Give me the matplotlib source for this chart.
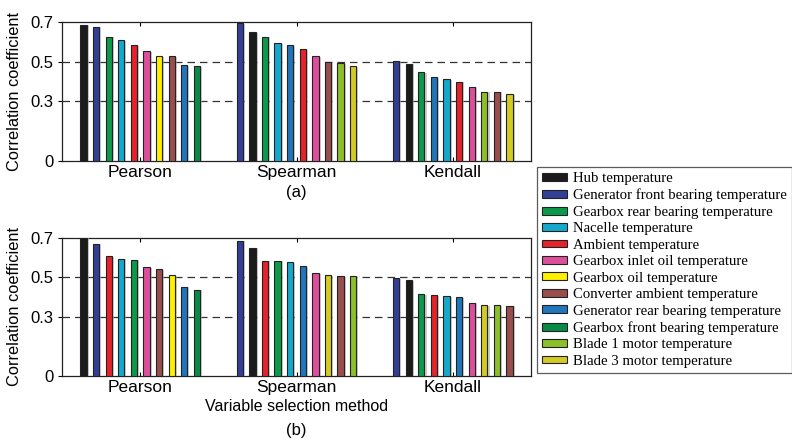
import matplotlib
matplotlib.use("Agg")
import matplotlib.pyplot as plt
import matplotlib.patheffects as pe
from matplotlib.patches import Patch
import numpy as np

variables = ["Hub temperature", "Generator front bearing temperature",
             "Gearbox rear bearing temperature", "Nacelle temperature",
             "Ambient temperature", "Gearbox inlet oil temperature",
             "Gearbox oil temperature", "Converter ambient temperature",
             "Generator rear bearing temperature", "Gearbox front bearing temperature",
             "Blade 1 motor temperature", "Blade 3 motor temperature"]
colors = ["#1b1b1b", "#323f96", "#0c9a4a", "#14a9cc", "#e5232a", "#de4f9b",
          "#fff000", "#984e4c", "#1f76bd", "#0a8b45", "#8cbf2a", "#d3cb25"]
methods = ["Pearson", "Spearman", "Kendall"]

# panel (a): variable order (indices) and values per method
a_order = [[0, 1, 2, 3, 4, 5, 6, 7, 8, 9],
           [1, 0, 2, 3, 8, 4, 5, 7, 10, 11],
           [1, 0, 2, 8, 3, 4, 5, 10, 7, 11]]
a_vals = [[0.686, 0.676, 0.626, 0.609, 0.582, 0.553, 0.529, 0.529, 0.483, 0.478],
          [0.695, 0.648, 0.626, 0.592, 0.582, 0.564, 0.528, 0.500, 0.493, 0.478],
          [0.505, 0.491, 0.446, 0.424, 0.413, 0.399, 0.374, 0.349, 0.349, 0.337]]
# panel (b)
b_order = [[0, 1, 4, 3, 2, 5, 7, 6, 8, 9],
           [1, 0, 4, 2, 3, 8, 5, 11, 7, 10],
           [1, 0, 2, 4, 3, 8, 5, 11, 10, 7]]
b_vals = [[0.700, 0.669, 0.604, 0.593, 0.588, 0.550, 0.540, 0.511, 0.451, 0.436],
          [0.684, 0.649, 0.583, 0.583, 0.577, 0.555, 0.521, 0.511, 0.506, 0.506],
          [0.496, 0.486, 0.414, 0.407, 0.402, 0.398, 0.370, 0.358, 0.358, 0.355]]
yticks = [0, 0.3, 0.5, 0.7]

sans = ["Liberation Sans", "DejaVu Sans"]
serif = ["Liberation Serif", "DejaVu Serif"]

fig = plt.figure(figsize=(7.92, 4.41), dpi=100)
ax_a = fig.add_axes([62/792, 1-161/441, 469/792, 139/441])
ax_b = fig.add_axes([62/792, 1-376/441, 469/792, 138.5/441])

spacing = 0.0806
width = 0.04

def draw(ax, order, vals):
    for g in range(3):
        xs = (g + 1) + (np.arange(len(order[g])) - 4.5) * spacing
        cols = [colors[i] for i in order[g]]
        bars = ax.bar(xs, vals[g], width=width, color=cols, edgecolor="#222222",
                      linewidth=0.8, zorder=3)
        for b in bars:
            b.set_path_effects([pe.SimplePatchShadow(offset=(1.5, -0.5), shadow_rgbFace="#aaaaaa", alpha=0.6),
                                pe.Normal()])
    for y in (0.3, 0.5):
        ax.axhline(y, color="#333333", lw=0.9, dashes=(6, 4), zorder=1)
    ax.set_xlim(0.5, 3.5)
    ax.set_ylim(0, 0.7)
    ax.set_yticks(yticks)
    ax.set_yticklabels(["0", "0.3", "0.5", "0.7"], fontfamily=sans, fontsize=12)
    ax.set_xticks([1, 2, 3])
    ax.set_xticklabels(methods, fontfamily=sans, fontsize=12.5)
    ax.tick_params(axis="x", direction="in", top=True, length=3, pad=3)
    ax.tick_params(axis="y", direction="out", length=3, pad=3)
    ax.set_ylabel("Correlation coefficient", fontfamily=sans, fontsize=11.8, labelpad=6)
    for s in ax.spines.values():
        s.set_linewidth(0.9)
        s.set_color("#222222")

draw(ax_a, a_order, a_vals)
draw(ax_b, b_order, b_vals)
ax_b.set_xlabel("Variable selection method", fontfamily=sans, fontsize=11.5, labelpad=3)

fig.text(296/792, 1-193/441, "(a)", ha="center", va="center", fontfamily=sans, fontsize=12)
fig.text(296/792, 1-430/441, "(b)", ha="center", va="center", fontfamily=sans, fontsize=12)

handles = [Patch(facecolor=c, edgecolor="#222222", linewidth=0.8) for c in colors]
leg = fig.legend(handles, variables, loc="upper left",
                 bbox_to_anchor=(537/792, 1-167/441), borderaxespad=0,
                 prop={"family": serif, "size": 10.6}, frameon=True, fancybox=False,
                 handlelength=1.7, handleheight=0.45, handletextpad=0.4,
                 labelspacing=0.235, borderpad=0.35)
leg.get_frame().set_edgecolor("#333333")
leg.get_frame().set_linewidth(0.9)

fig.savefig("out.png", dpi=100)
